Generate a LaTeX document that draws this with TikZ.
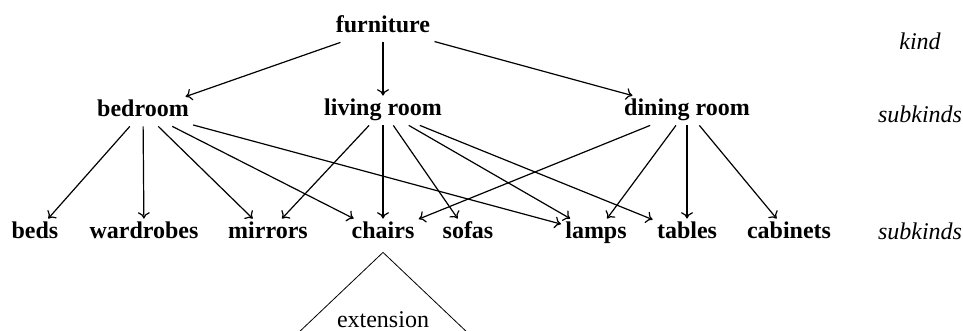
\documentclass[tikz,border=0pt]{standalone}
\usepackage{fontspec}
\setmainfont{Liberation Serif}
\usetikzlibrary{arrows.meta}
\begin{document}
\begin{tikzpicture}[x=0.5pt,y=-0.5pt,
  cat/.style={font=\fontsize{12}{14}\selectfont\bfseries, anchor=base, text height=8pt, text depth=2.5pt, inner sep=2pt},
  lvl/.style={font=\fontsize{12}{14}\selectfont\itshape, anchor=base},
  plain/.style={font=\fontsize{12}{14}\selectfont, anchor=base},
  isa/.style={-{To[length=3.2pt,width=6pt]}, line width=0.6pt},
  ext/.style={line width=0.4pt}]
\useasboundingbox (0,0) rectangle (963,331);
% top levels
\node[cat] (furn) at (383,33) {furniture};
\node[cat] (bed) at (143,117) {bedroom};
\node[cat] (liv) at (383,116) {living room};
\node[cat] (din) at (687,116) {dining room};
% level labels
\node[lvl] (k) at (920,50) {kind};
\node[lvl] (s1) at (920,123) {subkinds};
\node[lvl] (s2) at (920,240) {subkinds};
% bottom row
\node[cat] (beds) at (35,239) {beds};
\node[cat] (ward) at (144,239) {wardrobes};
\node[cat] (mirr) at (268,239) {mirrors};
\node[cat] (chairs) at (383,239) {chairs};
\node[cat] (sofas) at (468,239) {sofas};
\node[cat] (lamps) at (596,239) {lamps};
\node[cat] (tables) at (687,239) {tables};
\node[cat] (cab) at (789,239) {cabinets};
% edges
\draw[isa] (furn) -- (bed);
\draw[isa] (furn) -- (liv);
\draw[isa] (furn) -- (din);
\draw[isa] (bed) -- (beds);
\draw[isa] (bed) -- (ward);
\draw[isa] (bed) -- (mirr);
\draw[isa] (bed) -- (chairs);
\draw[isa] (bed) -- (lamps);
\draw[isa] (liv) -- (mirr);
\draw[isa] (liv) -- (chairs);
\draw[isa] (liv) -- (sofas);
\draw[isa] (liv) -- (lamps);
\draw[isa] (liv) -- (tables);
\draw[isa] (din) -- (chairs);
\draw[isa] (din) -- (lamps);
\draw[isa] (din) -- (tables);
\draw[isa] (din) -- (cab);
% extension triangle
\coordinate (apex) at ([yshift=-2pt]chairs.south);
\coordinate (tl) at (296,335);
\coordinate (tr) at (470,335);
\draw[ext] (tl) -- (apex) -- (tr);
\node[plain] (extlbl) at (383,327) {extension};
\end{tikzpicture}
\end{document}
